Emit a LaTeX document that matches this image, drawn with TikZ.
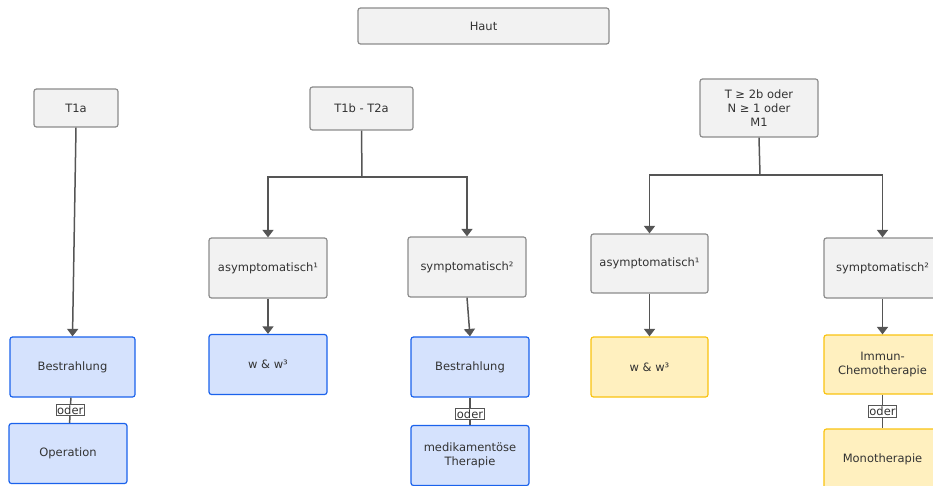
\documentclass[tikz,border=0pt]{standalone}
\usepackage{fontspec}
\setmainfont{DejaVu Sans}
\usetikzlibrary{arrows.meta}
\definecolor{boxgray}{HTML}{F2F2F2}
\definecolor{linegray}{HTML}{8C8C8C}
\definecolor{arrgray}{HTML}{555555}
\definecolor{txtgray}{HTML}{333333}
\definecolor{boxblue}{HTML}{D5E2FD}
\definecolor{lineblue}{HTML}{1A62EC}
\definecolor{boxyellow}{HTML}{FFF0BF}
\definecolor{lineyellow}{HTML}{F9C311}
\tikzset{
  gbox/.style={draw=linegray, fill=boxgray, text=txtgray, rounded corners=2.5pt, line width=1.2pt,
    align=center, inner sep=2pt, minimum width=118pt, minimum height=60pt,
    font=\fontsize{11.5}{14}\selectfont},
  bbox/.style={gbox, draw=lineblue, fill=boxblue},
  ybox/.style={gbox, draw=lineyellow, fill=boxyellow},
  conn/.style={draw=arrgray, line width=1.5pt},
  arr/.style={conn, -{Triangle[width=11pt,length=7.5pt]}},
  oderlbl/.style={draw=arrgray, fill=white, text=txtgray, line width=0.9pt, inner sep=1.2pt,
    font=\fontsize{11.5}{12}\selectfont}
}
\begin{document}
\begin{tikzpicture}[x=1pt,y=-1pt]
\useasboundingbox (0,0) rectangle (933,486);
\clip (0,0) rectangle (933,486);

%TOP
\node[gbox, minimum width=251pt, minimum height=36pt] (haut) at (483.5,26) {Haut};

%T1a
\node[gbox, minimum width=84pt, minimum height=38pt] (t1a) at (76,108) {T1a};
\node[bbox, minimum width=125pt] (bestr1) at (72.5,367) {Bestrahlung};
\node[bbox] (oper) at (68,453.5) {Operation};
\draw[arr] (t1a.south) -- (bestr1.north);
\draw[conn] (bestr1) -- node[oderlbl]{oder} (oper);

%T1b - T2a
\node[gbox, minimum width=103pt, minimum height=43pt] (t1b) at (361.5,108.5) {T1b - T2a};
\coordinate (j1) at (362,177);
\node[gbox] (asy1) at (268,268) {asymptomatisch¹};
\node[gbox] (sym1) at (467,267) {symptomatisch²};
\node[bbox] (ww1) at (268,364.5) {w \& w³};
\node[bbox] (bestr2) at (470,367) {Bestrahlung};
\node[bbox] (medi) at (470,455.5) {medikamentöse\\Therapie};
\draw[conn] (t1b.south) -- (j1);
\draw[arr] (j1) -| (asy1.north);
\draw[arr] (j1) -| (sym1.north);
\draw[arr] (asy1) -- (ww1);
\draw[arr] (sym1.south) -- (bestr2.north);
\draw[conn] (bestr2) -- node[oderlbl, pos=0.6]{oder} (medi);

%T >= 2b
\node[gbox, minimum height=58pt] (t2b) at (759,108) {T ≥ 2b oder\\N ≥ 1 oder\\M1};
\coordinate (j2) at (760,175);
\node[gbox, minimum width=117pt, minimum height=59pt] (asy2) at (649.5,263.5) {asymptomatisch¹};
\node[gbox, minimum width=117pt] (sym2) at (882.5,268) {symptomatisch²};
\node[ybox, minimum width=117pt] (ww2) at (649.5,367) {w \& w³};
\node[ybox, minimum width=117pt, minimum height=59pt] (immun) at (882.5,364.5) {Immun-\\Chemotherapie};
\node[ybox, minimum width=117pt] (mono) at (882.5,459) {Monotherapie};
\draw[conn] (t2b.south) -- (j2);
\draw[arr] (j2) -| (asy2.north);
\draw[arr] (j2) -| (sym2.north);
\draw[arr] (asy2.south) -- (ww2.north);
\draw[arr] (sym2.south) -- (immun.north);
\draw[conn] (immun) -- node[oderlbl]{oder} (mono);
\end{tikzpicture}
\end{document}
